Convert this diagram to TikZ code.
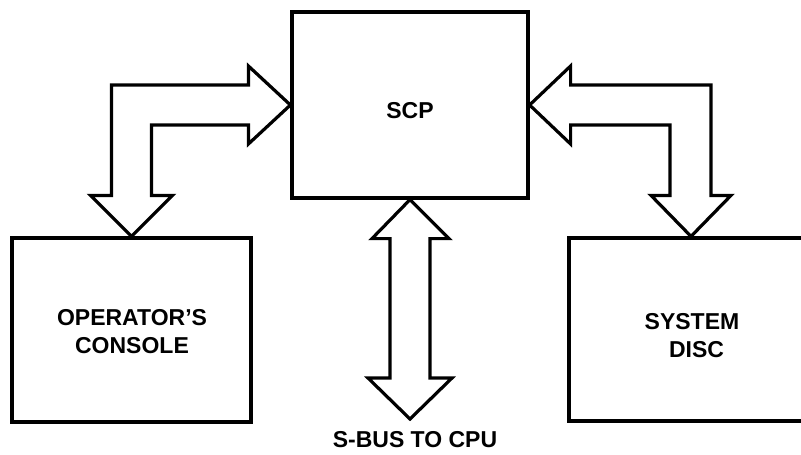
\documentclass[tikz,border=0pt]{standalone}
\usepackage{fontspec}
\setmainfont{Liberation Sans}
\usetikzlibrary{calc}
\begin{document}
\begin{tikzpicture}[x=1pt,y=-1pt,
  unit/.style={draw, line width=3.2pt, minimum width=#1, inner sep=0pt},
  label/.style={font=\bfseries\fontsize{23}{28}\selectfont, align=center},
  bus/.style={draw, line width=3.2pt, line join=miter, fill=white}]
  \useasboundingbox (0,0) rectangle (801,455);
  \clip (0,0) rectangle (801,455);

  % processor and peripheral boxes
  \node[unit=236pt, minimum height=186pt] (scp) at (410,105) {};
  \node[label] at (410,111) {SCP};
  \node[unit=239pt, minimum height=184pt] (con) at (131.5,330) {};
  \node[label] at (132,332) {OPERATOR'S\\CONSOLE};
  \node[unit=244pt, minimum height=183pt] (disc) at (691,329.5) {};
  \node[label] at (692,336) {SYSTEM\\\hspace{0.4em}DISC};

  % free end of the system bus
  \coordinate (cpu) at (410,419);
  \node[label] (buslbl) at (415,440) {S-BUS TO CPU};

  % console <-> SCP
  \draw[bus] (scp.west) -- ++(-42,-39) -- ++(0,19)
    -- ($(con.north |- scp.west)+(-20,-20)$)
    -- ($(con.north)+(-20,-41)$) -- ($(con.north)+(-41,-41)$)
    -- (con.north)
    -- ($(con.north)+(41,-41)$) -- ($(con.north)+(20,-41)$)
    -- ($(con.north |- scp.west)+(20,20)$)
    -- ($(scp.west)+(-42,20)$) -- ($(scp.west)+(-42,39)$) -- cycle;

  % disc <-> SCP
  \draw[bus] (scp.east) -- ++(41,-39) -- ++(0,19)
    -- ($(disc.north |- scp.east)+(20,-20)$)
    -- ($(disc.north)+(20,-41)$) -- ($(disc.north)+(40,-41)$)
    -- (disc.north)
    -- ($(disc.north)+(-40,-41)$) -- ($(disc.north)+(-21,-41)$)
    -- ($(disc.north |- scp.east)+(-21,20)$)
    -- ($(scp.east)+(41,20)$) -- ($(scp.east)+(41,39)$) -- cycle;

  % system bus
  \draw[bus] (scp.south) -- ++(39,39) -- ++(-19,0)
    -- ($(cpu)+(20,-41)$) -- ($(cpu)+(42,-41)$)
    -- (cpu)
    -- ($(cpu)+(-42,-41)$) -- ($(cpu)+(-20,-41)$)
    -- ($(scp.south)+(-20,39)$) -- ($(scp.south)+(-38,39)$) -- cycle;
\end{tikzpicture}
\end{document}
